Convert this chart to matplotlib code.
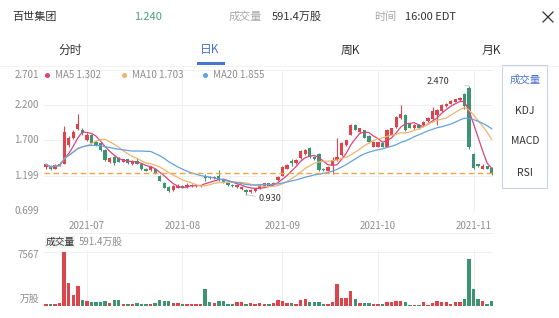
import matplotlib
matplotlib.use("Agg")
import matplotlib.pyplot as plt
from matplotlib.patches import Rectangle
from matplotlib.lines import Line2D
import numpy as np
import pandas as pd

plt.rcParams["font.family"] = ["Noto Sans CJK SC", "DejaVu Sans"]

RED = "#DD454B"
GREEN = "#3E9472"
GREY = "#8E8E8E"
DARK = "#333333"
BLUE = "#4A72D0"
MA5_C = "#D8457F"
MA10_C = "#F0B46C"
MA20_C = "#64A2E0"
GRID = "#EEEEEE"

# ---- data ----
opens = [1.32, 1.34, 1.30, 1.34, 1.37, 1.63, 1.74, 1.86, 1.85, 1.71,
         1.78, 1.67, 1.66, 1.57, 1.40, 1.47, 1.45, 1.40, 1.43, 1.36,
         1.41, 1.37, 1.30, 1.28, 1.30, 1.20, 1.10, 1.04, 0.99, 1.03,
         1.05, 1.04, 1.05, 1.05, 1.05, 1.20, 1.18, 1.16, 1.20, 1.14,
         1.10, 1.07, 1.04, 1.01, 1.00, 0.97, 0.98, 1.02, 1.06, 1.09,
         1.07, 1.14, 1.20, 1.30, 1.41, 1.38, 1.45, 1.50, 1.59, 1.47,
         1.51, 1.30, 1.27, 1.35, 1.42, 1.49, 1.63, 1.78, 1.92, 1.82,
         1.84, 1.76, 1.61, 1.61, 1.66, 1.61, 1.78, 1.89, 2.01, 2.06,
         1.93, 1.87, 1.92, 1.92, 1.97, 2.00, 2.06, 2.11, 2.18, 2.22,
         2.25, 2.27, 2.35, 2.44, 1.50, 1.36, 1.30, 1.33, 1.31]
highs = [1.37, 1.35, 1.36, 1.40, 1.90, 1.76, 1.84, 2.08, 1.87, 1.80,
         1.79, 1.69, 1.67, 1.58, 1.47, 1.48, 1.46, 1.44, 1.44, 1.42,
         1.45, 1.38, 1.31, 1.34, 1.31, 1.21, 1.11, 1.06, 1.07, 1.08,
         1.07, 1.10, 1.08, 1.07, 1.07, 1.22, 1.19, 1.19, 1.28, 1.15,
         1.11, 1.08, 1.08, 1.05, 1.01, 1.01, 1.03, 1.08, 1.10, 1.10,
         1.11, 1.19, 1.34, 1.36, 1.44, 1.43, 1.56, 1.58, 1.60, 1.48,
         1.52, 1.31, 1.33, 1.47, 1.73, 1.67, 1.71, 1.93, 1.93, 1.88,
         1.85, 1.77, 1.69, 1.68, 1.67, 1.86, 1.88, 2.04, 2.20, 2.07,
         1.95, 1.93, 1.93, 1.97, 2.03, 2.17, 2.14, 2.21, 2.23, 2.27,
         2.29, 2.31, 2.37, 2.47, 1.52, 1.37, 1.36, 1.34, 1.32]
lows = [1.30, 1.28, 1.29, 1.33, 1.36, 1.60, 1.72, 1.84, 1.78, 1.69,
        1.65, 1.62, 1.55, 1.41, 1.38, 1.35, 1.39, 1.39, 1.37, 1.35,
        1.36, 1.28, 1.26, 1.27, 1.23, 1.12, 1.02, 0.97, 0.98, 1.02,
        1.02, 1.03, 1.04, 1.04, 1.04, 1.12, 1.15, 1.15, 1.13, 1.09,
        1.06, 1.04, 1.03, 1.00, 0.93, 0.96, 0.97, 1.01, 1.05, 1.05,
        1.06, 1.13, 1.19, 1.29, 1.33, 1.37, 1.44, 1.49, 1.45, 1.42,
        1.27, 1.27, 1.26, 1.23, 1.41, 1.48, 1.62, 1.77, 1.84, 1.81,
        1.73, 1.66, 1.60, 1.60, 1.60, 1.60, 1.77, 1.88, 2.00, 1.83,
        1.87, 1.86, 1.86, 1.91, 1.96, 1.99, 1.92, 2.10, 2.17, 2.21,
        2.24, 2.26, 2.15, 1.58, 1.30, 1.32, 1.29, 1.29, 1.21]
closes = [1.36, 1.29, 1.35, 1.37, 1.82, 1.73, 1.82, 1.93, 1.80, 1.78,
          1.66, 1.63, 1.57, 1.42, 1.45, 1.38, 1.40, 1.43, 1.38, 1.40,
          1.37, 1.29, 1.27, 1.32, 1.24, 1.13, 1.03, 0.98, 1.05, 1.06,
          1.03, 1.07, 1.07, 1.06, 1.06, 1.17, 1.16, 1.18, 1.14, 1.10,
          1.07, 1.05, 1.07, 1.04, 0.97, 1.00, 1.02, 1.07, 1.09, 1.06,
          1.10, 1.18, 1.32, 1.35, 1.38, 1.42, 1.55, 1.57, 1.46, 1.43,
          1.28, 1.28, 1.32, 1.42, 1.47, 1.66, 1.70, 1.92, 1.85, 1.87,
          1.74, 1.67, 1.68, 1.67, 1.61, 1.85, 1.87, 2.03, 2.08, 1.84,
          1.88, 1.92, 1.87, 1.96, 2.02, 2.11, 2.13, 2.20, 2.22, 2.26,
          2.28, 2.30, 2.18, 1.60, 1.31, 1.33, 1.34, 1.30, 1.24]
# volume in 万股
volumes = [330, 230, 330, 420, 7567, 3220, 1500, 2850, 890, 650,
           510, 510, 610, 650, 420, 790, 790, 330, 330, 230,
           470, 330, 330, 330, 420, 890, 750, 750, 370, 370,
           230, 330, 230, 230, 230, 2430, 510, 420, 650, 650,
           280, 280, 510, 510, 280, 470, 330, 370, 330, 230,
           420, 890, 650, 470, 420, 330, 890, 930, 560, 560,
           560, 230, 330, 560, 3130, 1120, 1170, 2150, 1030, 420,
           470, 420, 280, 280, 230, 510, 510, 650, 750, 610,
           190, 190, 190, 510, 190, 420, 650, 560, 510, 330,
           610, 610, 930, 6540, 2330, 1030, 650, 330, 650]

holidays = ["2021-07-05", "2021-09-06"]
dates = pd.bdate_range("2021-06-18", "2021-11-05").drop(pd.to_datetime(holidays))

price_ticks = [0.699, 1.199, 1.700, 2.200, 2.701]
last_price = 1.240
ma_labels = ["MA5 1.302", "MA10 1.703", "MA20 1.855"]
max_vol_label = "7567"
high_label, low_label = "2.470", "0.930"

df = pd.DataFrame({"open": opens, "high": highs, "low": lows,
                   "close": closes, "vol": volumes}, index=dates)
x = np.arange(len(df))
up = df["close"] >= df["open"]
colors = np.where(up, RED, GREEN)
ma5 = df["close"].rolling(5, min_periods=1).mean()
ma10 = df["close"].rolling(10, min_periods=1).mean()
ma20 = df["close"].rolling(20, min_periods=1).mean()

month_pos = [i for i in range(1, len(dates)) if dates[i].month != dates[i - 1].month]
month_lab = [dates[i].strftime("%Y-%m") for i in month_pos]

# ---- figure ----
W, H = 559, 318
fig = plt.figure(figsize=(W / 100, H / 100), dpi=100)
fig.patch.set_facecolor("white")


def fx(px):
    return px / W


def fy(py):
    return 1 - py / H


# header
fig.text(fx(12.5), fy(17), "百世集团", fontsize=8, color=DARK, va="center")
fig.text(fx(134), fy(17), "1.240", fontsize=8, color="#4E9E7C", va="center")
fig.text(fx(229), fy(17), "成交量", fontsize=8, color="#A8A8A8", va="center")
fig.text(fx(272), fy(17), "591.4万股", fontsize=8, color=DARK, va="center")
fig.text(fx(374), fy(17), "时间", fontsize=8, color="#A8A8A8", va="center")
fig.text(fx(405), fy(17), "16:00 EDT", fontsize=8, color=DARK, va="center")
fig.add_artist(Line2D([fx(543), fx(553)], [fy(12), fy(22)], color=DARK, lw=0.9))
fig.add_artist(Line2D([fx(543), fx(553)], [fy(22), fy(12)], color=DARK, lw=0.9))

for cx, t, c in [(70, "分时", DARK), (210, "日K", BLUE), (350, "周K", DARK), (491, "月K", DARK)]:
    fig.text(fx(cx), fy(50), t, fontsize=8.5, color=c, ha="center", va="center")
fig.add_artist(Line2D([fx(198), fx(222.5)], [fy(63), fy(63)], color=BLUE, lw=2.2))
fig.add_artist(Line2D([0, 1], [fy(65.5), fy(65.5)], color="#F0F0F0", lw=0.6))

# price panel
L, R = 44.3, 493.3
ax = fig.add_axes([fx(L), fy(211), (R - L) / W, (211 - 69.7) / H])
ax.set_xlim(-0.37, len(df) - 1 + 0.35)
ax.set_ylim(price_ticks[0], price_ticks[-1])
ax.vlines(x, df["low"], df["high"], color=colors, lw=0.8, zorder=3)
body = (df["close"] - df["open"]).abs().clip(lower=0.006)
ax.bar(x, body, bottom=df[["open", "close"]].min(axis=1), width=0.72,
       color=colors, zorder=4, linewidth=0)
ax.plot(x, ma5, color=MA5_C, lw=0.9, zorder=5)
ax.plot(x, ma10, color=MA10_C, lw=0.9, zorder=5)
ax.plot(x, ma20, color=MA20_C, lw=0.9, zorder=5)
ax.axhline(last_price, color="#F0A548", lw=1.0, ls=(0, (4, 2.5)), zorder=6)

ax.set_yticks(price_ticks)
ax.set_yticklabels([])
ax.set_xticks(month_pos)
ax.set_xticklabels(month_lab, fontsize=7, color=GREY)
ax.tick_params(length=0, pad=7)
ax.grid(color=GRID, lw=0.6, zorder=0)
for s in ax.spines.values():
    s.set_visible(False)
for i, v in enumerate(price_ticks):
    va = "top" if i == len(price_ticks) - 1 else "center"
    ax.text(-0.012, v, f"{v:.3f}", transform=ax.get_yaxis_transform(),
            ha="right", va=va, fontsize=7, color=GREY)

# legend row
lx = [46.7, 124, 205]
for px, lab, c in zip(lx, ma_labels, [MA5_C, MA10_C, MA20_C]):
    fig.add_artist(Line2D([fx(px)], [fy(75)], marker="o", markersize=2.6,
                          color=c, linestyle="none"))
    fig.text(fx(px + 8), fy(75), lab, color=GREY, fontsize=7, va="center")

# high / low notes
hi_i = int(np.argmax(df["high"]))
lo_i = int(np.argmin(df["low"]))
ax.annotate(high_label, xy=(hi_i, df["high"].iloc[hi_i]), xytext=(-22, 3),
            textcoords="offset points", fontsize=6.5, color=DARK, ha="center", va="center",
            arrowprops=dict(arrowstyle="-", color="#C8C8C8", lw=0.6, shrinkA=9, shrinkB=0))
ax.annotate(low_label, xy=(lo_i, df["low"].iloc[lo_i]), xytext=(17, -3),
            textcoords="offset points", fontsize=6.5, color=DARK, ha="center", va="center",
            arrowprops=dict(arrowstyle="-", color="#C8C8C8", lw=0.6, shrinkA=9, shrinkB=0))

fig.add_artist(Line2D([fx(L), fx(R)], [fy(233), fy(233)], color=GRID, lw=0.6))

# volume panel
vax = fig.add_axes([fx(L), fy(306), (R - L) / W, 56 / H])
vax.set_xlim(ax.get_xlim())
vax.set_ylim(0, max(volumes) * 1.04)
vax.bar(x, df["vol"], width=0.75, color=colors, linewidth=0, zorder=3)
vax.set_xticks(month_pos)
vax.set_yticks([max(volumes)])
vax.set_xticklabels([])
vax.set_yticklabels([])
vax.tick_params(length=0)
vax.grid(color=GRID, lw=0.6, zorder=0)
for s in vax.spines.values():
    s.set_visible(False)
fig.text(fx(39), fy(255), max_vol_label, fontsize=7, color=GREY, ha="right", va="center")
fig.text(fx(39), fy(299), "万股", fontsize=7, color=GREY, ha="right", va="center")

fig.add_artist(Rectangle((fx(45), fy(248)), fx(30), 12 / H, transform=fig.transFigure,
                         facecolor="#F2F2F2", edgecolor="none"))
fig.text(fx(60), fy(242), "成交量", fontsize=7, color=DARK, ha="center", va="center")
fig.text(fx(79), fy(242), "591.4万股", fontsize=7, color=GREY, va="center")

# indicator selector box
fig.add_artist(Rectangle((fx(502.5), fy(187.5)), fx(45), 122.5 / H, transform=fig.transFigure,
                         facecolor="white", edgecolor="#C8D2E6", lw=0.8))
for py, t, c in [(80, "成交量", BLUE), (111.5, "KDJ", DARK), (141.5, "MACD", DARK), (172.5, "RSI", DARK)]:
    fig.text(fx(525), fy(py), t, fontsize=7.5, color=c, ha="center", va="center")

fig.savefig("out.png", dpi=100, facecolor="white")
